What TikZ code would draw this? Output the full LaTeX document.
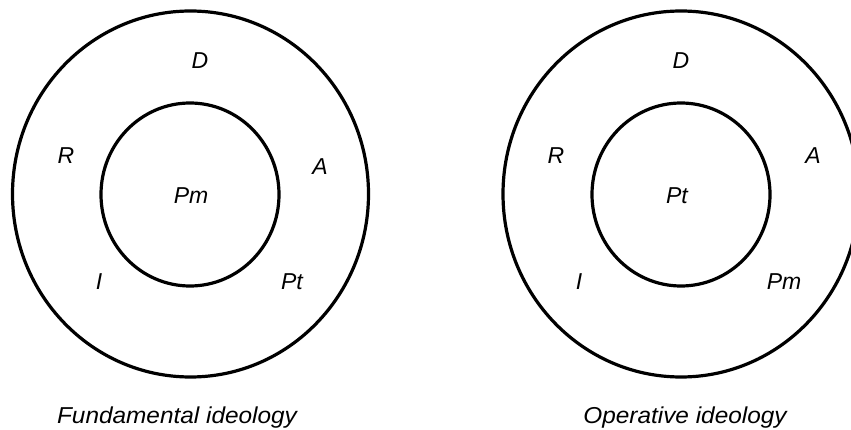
\documentclass[tikz,border=0pt]{standalone}
\usepackage{fontspec}
\setmainfont{Liberation Sans}
\usetikzlibrary{shapes.geometric}
\tikzset{
  ring/.style={draw=black, line width=3.2pt, ellipse, inner sep=0pt},
  outerring/.style={ring, minimum width=356pt, minimum height=366pt},
  innerring/.style={ring, minimum width=178pt, minimum height=183pt},
  lbl/.style={anchor=base, inner sep=0pt, font=\fontsize{23pt}{26pt}\selectfont\itshape},
  captext/.style={anchor=base, inner sep=0pt, font=\fontsize{23pt}{26pt}\selectfont\itshape}
}
\begin{document}
\begin{tikzpicture}[x=1pt,y=-1pt]
\useasboundingbox (0,0) rectangle (851,430);
\clip (0,0) rectangle (851,430);
% left diagram
\node[outerring] (outL) at (190.5,194) {};
\node[innerring] (inL) at (190,194.5) {};
\node[lbl] (dL) at (200,69) {D};
\node[lbl] (rL) at (66,164) {R};
\node[lbl] (aL) at (320,175) {A};
\node[lbl] (pmL) at (191,204) {Pm};
\node[lbl] (iL) at (99,290) {I};
\node[lbl] (ptL) at (292,290) {Pt};
\node[captext] (capL) at (177,423) {\scalebox{1.06}[1]{Fundamental ideology}};
% right diagram
\node[outerring] (outR) at (681,194) {};
\node[innerring] (inR) at (681,194.5) {};
\node[lbl] (dR) at (681,69) {D};
\node[lbl] (rR) at (556,164) {R};
\node[lbl] (aR) at (813,164) {A};
\node[lbl] (ptR) at (677,204) {Pt};
\node[lbl] (iR) at (579,290) {I};
\node[lbl] (pmR) at (784,290) {Pm};
\node[captext] (capR) at (685,423) {\scalebox{1.06}[1]{Operative ideology}};
\end{tikzpicture}
\end{document}
